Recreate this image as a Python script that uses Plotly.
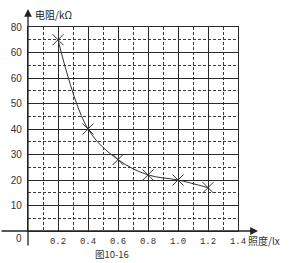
import plotly.graph_objects as go

# data
illum = [0.2, 0.4, 0.6, 0.8, 1.0, 1.2]
resist = [75, 40, 28, 22, 20, 17]
x_ticks = [0.2, 0.4, 0.6, 0.8, 1.0, 1.2, 1.4]
x_ticklabels = ["0.2", "0.4", "0.6", "0.8", "1.0", "1.2", "1.4"]
y_ticks = [10, 20, 30, 40, 50, 60, 70, 80]
y_ticklabels = ["10", "20", "30", "40", "50", "60", "60", "80"]

W, H = 291, 263
L, R, T, B = 28, 53, 27, 32
pw, ph = W - L - R, H - T - B

solid = "#2a2a2a"
dash = "#3a3a3a"

fig = go.Figure()
fig.add_trace(go.Scatter(
    x=illum, y=resist, mode="lines+markers",
    line=dict(color="#333333", width=1, shape="spline", smoothing=1.0),
    marker=dict(symbol="x-thin-open", size=11, line=dict(color="#444444", width=1)),
    cliponaxis=False, showlegend=False,
))

fig.update_layout(
    width=W, height=H, margin=dict(l=L, r=R, t=T, b=B),
    paper_bgcolor="white", plot_bgcolor="white",
    xaxis=dict(range=[0, 1.4], tickvals=x_ticks, ticktext=x_ticklabels,
               showgrid=True, gridcolor=solid, gridwidth=1.4,
               minor=dict(dtick=0.1, tick0=0, showgrid=True, gridcolor=dash,
                          griddash="3px,2px", gridwidth=1.1),
               zeroline=False, showline=True, mirror=True, linecolor=solid, linewidth=1.4,
               ticks="", ticklabelstandoff=1,
               tickfont=dict(family="Liberation Mono", size=9, color="#333")),
    yaxis=dict(range=[0, 80], tickvals=y_ticks, ticktext=y_ticklabels,
               showgrid=True, gridcolor=solid, gridwidth=1.4,
               minor=dict(dtick=5, tick0=0, showgrid=True, gridcolor=dash,
                          griddash="3px,2px", gridwidth=1.1),
               zeroline=False, showline=True, mirror=True, linecolor=solid, linewidth=1.4,
               ticks="", ticklabelstandoff=3,
               tickfont=dict(family="Liberation Sans", size=10, color="#333")),
)

def px_x(p):
    return (p - L) / pw

def px_y(p):
    return (H - B - p) / ph

# axes with arrows
fig.add_annotation(x=0, y=px_y(9), xref="paper", yref="paper", text="",
                   showarrow=True, axref="pixel", ayref="pixel", ax=0, ay=247 - 9,
                   arrowhead=2, arrowsize=1.2, arrowwidth=1.3, arrowcolor="#222")
fig.add_annotation(x=px_x(258), y=0, xref="paper", yref="paper", text="",
                   showarrow=True, axref="pixel", ayref="pixel", ax=-258, ay=0,
                   arrowhead=2, arrowsize=1.2, arrowwidth=1.3, arrowcolor="#222")

# labels
fig.add_annotation(x=px_x(33), y=px_y(14), xref="paper", yref="paper", text="电阻/kΩ",
                   showarrow=False, xanchor="left", yanchor="middle",
                   font=dict(family="Noto Sans CJK SC", size=10, color="#222"))
fig.add_annotation(x=px_x(246), y=px_y(240), xref="paper", yref="paper", text="照度/lx",
                   showarrow=False, xanchor="left", yanchor="middle",
                   font=dict(family="Noto Sans CJK SC", size=10, color="#333"))
fig.add_annotation(x=px_x(24), y=px_y(238), xref="paper", yref="paper", text="0",
                   showarrow=False, xanchor="right", yanchor="middle",
                   font=dict(family="Liberation Sans", size=10, color="#333"))
fig.add_annotation(x=px_x(112), y=px_y(263), xref="paper", yref="paper", text="图10-16",
                   showarrow=False, xanchor="center", yanchor="bottom",
                   font=dict(family="Noto Sans CJK SC", size=9.5, color="#333"))

fig.write_html("out.html")
